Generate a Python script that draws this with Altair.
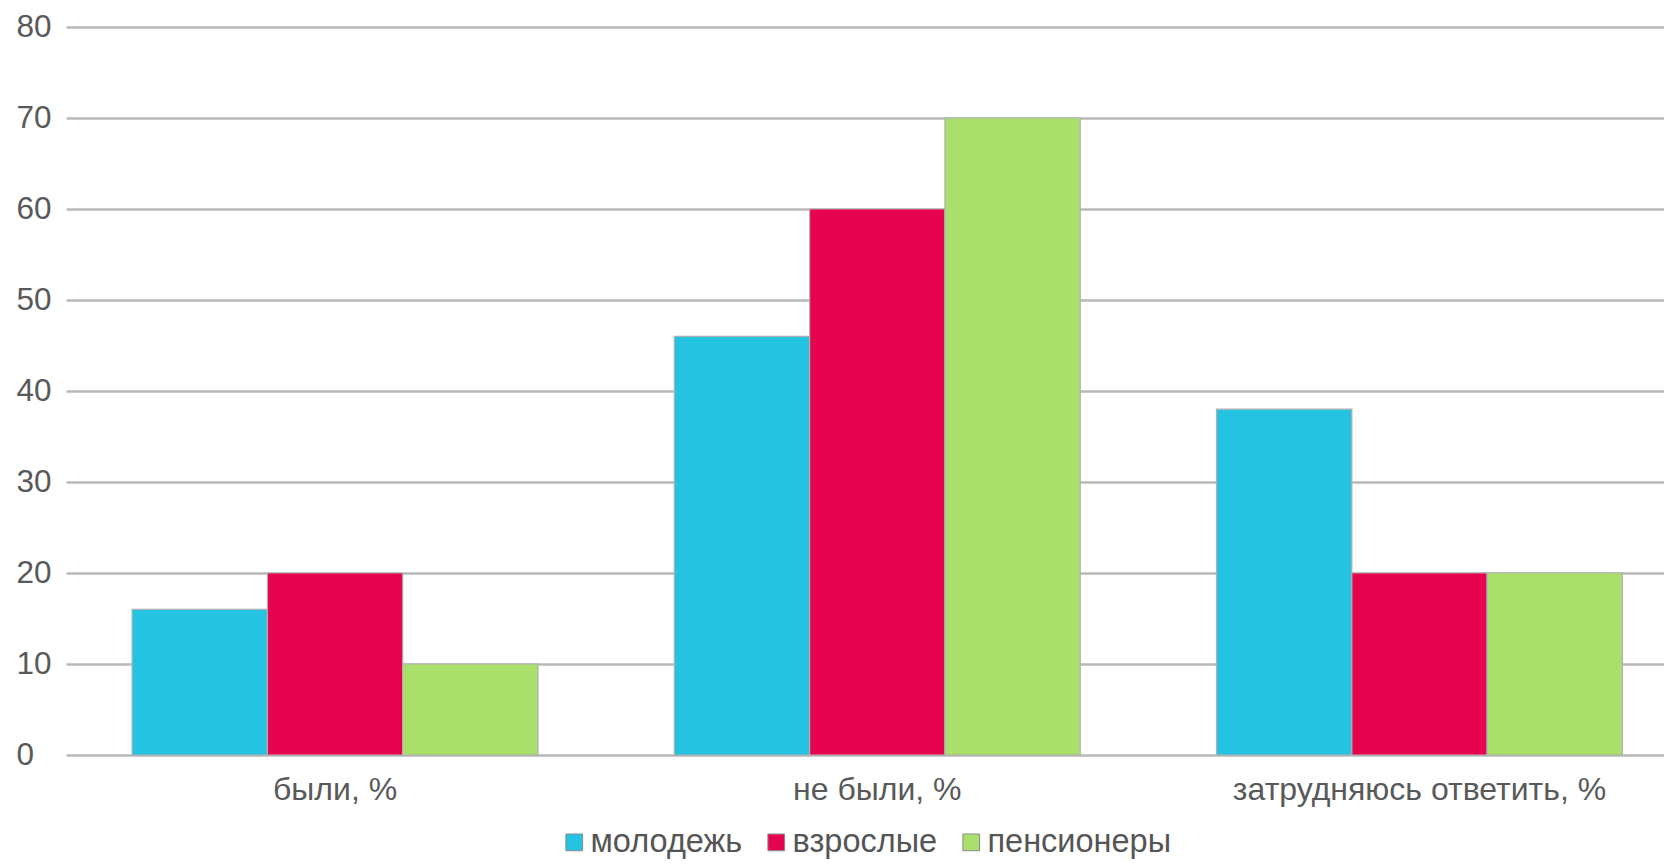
import altair as alt
import pandas as pd

categories = ["были, %", "не были, %", "затрудняюсь ответить, %"]
groups = ["молодежь", "взрослые", "пенсионеры"]
molodezh = [16, 46, 38]
vzroslye = [20, 60, 20]
pensionery = [10, 70, 20]
colors = ["#23C3E1", "#E6034F", "#A9E06C"]
y_ticks = [0, 10, 20, 30, 40, 50, 60, 70, 80]

rows = []
for g, vals in zip(groups, [molodezh, vzroslye, pensionery]):
    for c, v in zip(categories, vals):
        rows.append({"category": c, "group": g, "value": v})
df = pd.DataFrame(rows)

FONT = "Liberation Sans"

chart = alt.Chart(df).mark_bar(stroke="#b0b0b0", strokeWidth=1.2).encode(
    x=alt.X(
        "category:N", sort=categories, title=None,
        scale=alt.Scale(paddingInner=0.2514, paddingOuter=0.0993, align=0.614),
        axis=alt.Axis(labelAngle=0, ticks=False, tickSize=0, domain=False,
                      labelPadding=19, labelFontSize=32, labelColor="#595959",
                      labelFont=FONT, grid=False, labelLimit=0),
    ),
    xOffset=alt.XOffset("group:N", sort=groups,
                        scale=alt.Scale(paddingInner=0, paddingOuter=0)),
    y=alt.Y(
        "value:Q", title=None,
        scale=alt.Scale(domain=[0, 80], nice=False),
        axis=alt.Axis(values=y_ticks, labelAlign="left", labelBaseline="middle",
                      labelPadding=50, ticks=False, tickSize=0, domain=False,
                      grid=True, gridColor="#b8b8b8", gridWidth=2.5,
                      labelFontSize=31.5, labelColor="#595959", labelFont=FONT,
                      labelLimit=0),
    ),
    color=alt.Color(
        "group:N", sort=groups,
        scale=alt.Scale(domain=groups, range=colors),
        legend=alt.Legend(title=None, orient="none", legendX=492, legendY=799,
                          direction="horizontal", symbolType="square",
                          symbolSize=280, symbolStrokeColor="#8a8a8a",
                          symbolStrokeWidth=1, labelFontSize=32.5,
                          labelColor="#555555", labelFont=FONT, labelOffset=0,
                          columnPadding=17, padding=0, labelLimit=0),
    ),
).properties(
    width=1598, height=728,
    autosize=alt.AutoSizeParams(type="none"),
    padding={"left": 58, "top": 19, "right": 0, "bottom": 104},
).configure_view(stroke=None)

chart.save("out.html", embed_options={"renderer": "svg", "actions": False})
